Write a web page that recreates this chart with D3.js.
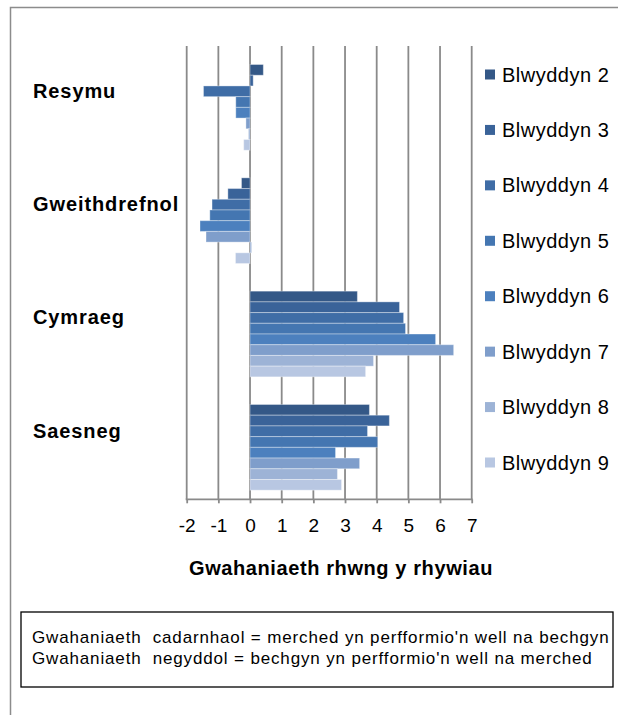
<!DOCTYPE html>
<html>
<head>
<meta charset="utf-8">
<script src="https://cdn.jsdelivr.net/npm/d3@7"></script>
<style>
  body { margin: 0; background: #fff; }
  svg { display: block; font-family: "Liberation Sans", Arial, sans-serif; }
</style>
</head>
<body>
<div id="canvas"></div>
<script>
// categories top to bottom, as drawn
var categories = ["Resymu", "Gweithdrefnol", "Cymraeg", "Saesneg"];
var years = ["Blwyddyn 2", "Blwyddyn 3", "Blwyddyn 4", "Blwyddyn 5",
             "Blwyddyn 6", "Blwyddyn 7", "Blwyddyn 8", "Blwyddyn 9"];

// one value per category (Resymu, Gweithdrefnol, Cymraeg, Saesneg)
var blwyddyn2 = [0.42, -0.27, 3.39, 3.77];
var blwyddyn3 = [0.10, -0.70, 4.72, 4.40];
var blwyddyn4 = [-1.47, -1.20, 4.85, 3.71];
var blwyddyn5 = [-0.45, -1.27, 4.91, 4.03];
var blwyddyn6 = [-0.45, -1.58, 5.86, 2.70];
var blwyddyn7 = [-0.13, -1.39, 6.43, 3.46];
var blwyddyn8 = [-0.05, 0.05, 3.90, 2.76];
var blwyddyn9 = [-0.20, -0.46, 3.65, 2.89];

var xTicks = [-2, -1, 0, 1, 2, 3, 4, 5, 6, 7];

var series = [blwyddyn2, blwyddyn3, blwyddyn4, blwyddyn5,
              blwyddyn6, blwyddyn7, blwyddyn8, blwyddyn9];

var colors = ["#345887", "#3a6399", "#3f6da6", "#4476b1",
              "#4c80be", "#7f9ecb", "#9db3d6", "#b8c7e2"];

var width = 618, height = 715;
var plotLeft = 186.7, plotRight = 471.7, plotTop = 46, plotBottom = 499.3;

var svg = d3.select("#canvas").append("svg")
    .attr("width", width)
    .attr("height", height);

// outer frame (runs off the right and bottom edge)
svg.append("rect")
    .attr("x", 10.5).attr("y", 7.5)
    .attr("width", 640).attr("height", 740)
    .attr("fill", "none")
    .attr("stroke", "#8c8c8c")
    .attr("stroke-width", 1.5);

var x = d3.scaleLinear().domain([-2, 7]).range([plotLeft, plotRight]);
var y = d3.scaleBand().domain(categories).range([plotTop, plotBottom]);
var yInner = d3.scaleBand().domain(years)
    .range([0, y.bandwidth()])
    .paddingOuter(1.29)
    .align(0.67);

// gridlines
svg.append("g").selectAll("line")
    .data(xTicks)
    .enter().append("line")
    .attr("x1", function (d) { return x(d); })
    .attr("x2", function (d) { return x(d); })
    .attr("y1", plotTop)
    .attr("y2", plotBottom)
    .attr("stroke", "#8a8a8a")
    .attr("stroke-width", 1.8);

// bars
var rows = [];
series.forEach(function (vals, s) {
    vals.forEach(function (v, c) {
        rows.push({ year: years[s], cat: categories[c], value: v, s: s });
    });
});

svg.append("g").selectAll("rect")
    .data(rows)
    .enter().append("rect")
    .attr("x", function (d) { return x(Math.min(0, d.value)); })
    .attr("y", function (d) { return y(d.cat) + yInner(d.year); })
    .attr("width", function (d) { return Math.abs(x(d.value) - x(0)); })
    .attr("height", yInner.bandwidth())
    .attr("fill", function (d) { return colors[d.s]; })
    .attr("stroke", "rgba(255,255,255,0.35)")
    .attr("stroke-width", 1);

// x axis
var xAxis = d3.axisBottom(x)
    .tickValues(xTicks)
    .tickSize(4)
    .tickPadding(15)
    .tickFormat(function (d) { return String(d); });

var ax = svg.append("g")
    .attr("transform", "translate(0," + plotBottom + ")")
    .call(xAxis);
ax.select(".domain")
    .attr("stroke", "#8a8a8a")
    .attr("stroke-width", 1.8)
    .attr("d", "M" + (plotLeft - 1) + ",0H" + (plotRight + 1));
ax.selectAll(".tick line").attr("stroke", "#8a8a8a").attr("stroke-width", 1.8);
ax.selectAll(".tick text")
    .attr("font-size", 19)
    .attr("font-family", "Liberation Sans, Arial, sans-serif")
    .attr("fill", "#000");

// axis title
svg.append("text")
    .attr("x", 341)
    .attr("y", 575)
    .attr("text-anchor", "middle")
    .attr("font-size", 20)
    .attr("font-weight", "bold")
    .attr("letter-spacing", 0.6)
    .text("Gwahaniaeth rhwng y rhywiau");

// category labels
svg.append("g").selectAll("text")
    .data(categories)
    .enter().append("text")
    .attr("x", 33)
    .attr("y", function (d) { return y(d) + y.bandwidth() / 2 - 5; })
    .attr("font-size", 20)
    .attr("font-weight", "bold")
    .attr("letter-spacing", 0.9)
    .text(function (d) { return d; });

// legend
var ly = d3.scalePoint().domain(years).range([74.5, 462.5]);
var leg = svg.append("g").selectAll("g")
    .data(years)
    .enter().append("g")
    .attr("transform", function (d) { return "translate(485," + ly(d) + ")"; });
leg.append("rect")
    .attr("x", 0).attr("y", -5)
    .attr("width", 10).attr("height", 10)
    .attr("fill", function (d, i) { return colors[i]; });
leg.append("text")
    .attr("x", 17)
    .attr("y", 7)
    .attr("font-size", 20)
    .attr("letter-spacing", 0.5)
    .text(function (d) { return d; });

// note box
svg.append("rect")
    .attr("x", 21).attr("y", 612)
    .attr("width", 592).attr("height", 75)
    .attr("fill", "#fff")
    .attr("stroke", "#000")
    .attr("stroke-width", 1.3);

var notes = ["Gwahaniaeth  cadarnhaol = merched yn perfformio'n well na bechgyn",
             "Gwahaniaeth  negyddol = bechgyn yn perfformio'n well na merched"];
svg.append("g").selectAll("text")
    .data(notes)
    .enter().append("text")
    .attr("x", 32)
    .attr("y", function (d, i) { return 643 + i * 20.5; })
    .attr("font-size", 17)
    .attr("letter-spacing", 0.85)
    .style("white-space", "pre")
    .text(function (d) { return d; });
</script>
</body>
</html>
